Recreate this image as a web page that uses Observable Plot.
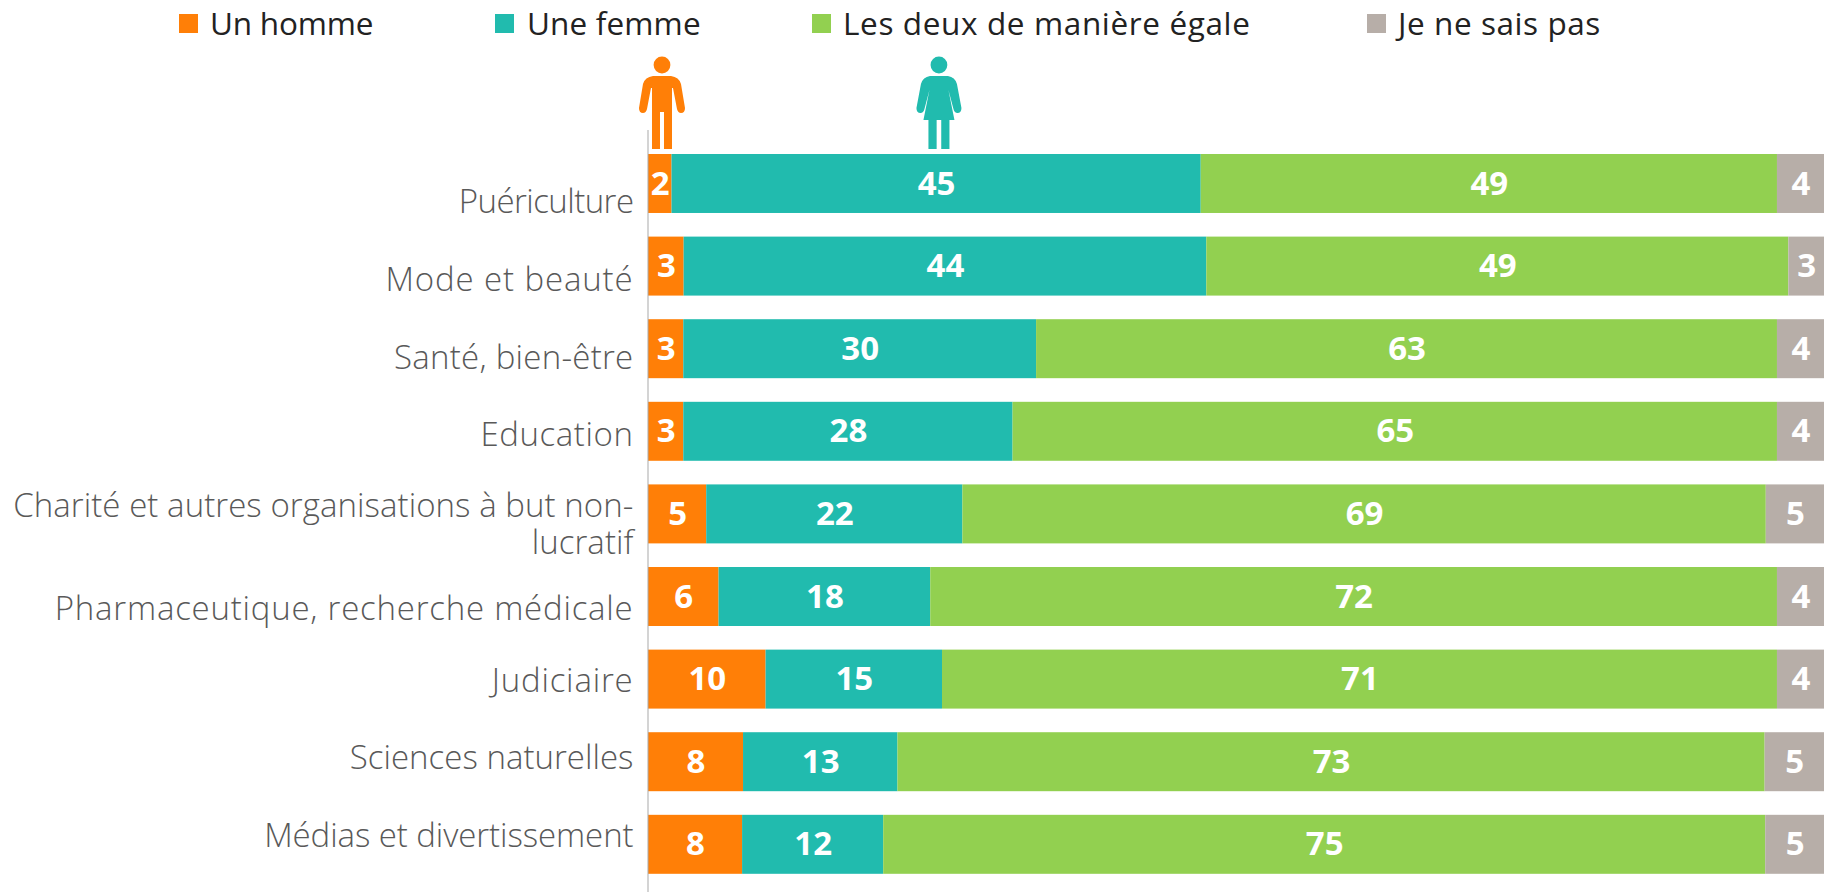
<!DOCTYPE html>
<html lang="fr">
<head>
<meta charset="utf-8">
<script src="https://cdn.jsdelivr.net/npm/d3@7"></script>
<script src="https://cdn.jsdelivr.net/npm/@observablehq/plot@0.6"></script>
<style>
html,body{margin:0;padding:0;background:#fff;overflow:hidden}
#legend{position:relative;height:45px;width:1832px;font-family:"Open Sans",sans-serif;font-size:31.5px;color:#222}
#legend span{position:absolute;top:3px;line-height:40px;white-space:nowrap}
#legend i{position:absolute;top:14px;width:19px;height:19px}
svg{display:block}
</style>
</head>
<body>
<div id="legend"></div>
<div id="chart"></div>
<script>
const categories = ["Puériculture","Mode et beauté","Santé, bien-être","Education","Charité et autres organisations à but non-\nlucratif","Pharmaceutique, recherche médicale","Judiciaire","Sciences naturelles","Médias et divertissement"];
const series = ["Un homme","Une femme","Les deux de manière égale","Je ne sais pas"];
const unHomme = [2,3,3,3,5,6,10,8,8];
const uneFemme = [45,44,30,28,22,18,15,13,12];
const lesDeux = [49,49,63,65,69,72,71,73,75];
const neSaisPas = [4,3,4,4,5,4,4,5,5];
const colors = ["#FF7F07","#21BBAE","#92D050","#B7AEA8"];

// layout (not data)
const legendSwatchX = [179,495,812,1367];
const legendTextX = [210,527,843,1398];
const legendSpacing = [-0.2,0.14,0.63,0.57];
const labelDy = [17,13,7.5,2,9,11.5,0.5,-5,-9.5];
const labelSpacing = [-0.55,0.87,0.26,0.57,0.06,0.77,0.8,0.02,-0.08];
const iconShare = [0.0119,0.2474];
const topBand = 45;

const legendDiv = document.getElementById("legend");
series.forEach((s,i)=>{
  const sw=document.createElement("i");
  sw.style.left=legendSwatchX[i]+"px"; sw.style.background=colors[i];
  legendDiv.appendChild(sw);
  const t=document.createElement("span");
  t.style.left=legendTextX[i]+"px"; t.style.letterSpacing=legendSpacing[i]+"px"; t.textContent=s;
  legendDiv.appendChild(t);
});

const columns=[unHomme,uneFemme,lesDeux,neSaisPas];
const rows=series.flatMap((s,j)=>categories.map((c,i)=>({category:c,series:s,value:columns[j][i]})));

const manBody="M-9,76L9,76Q17,77 19,84L23,108Q23,113 19,113Q16,113 15,109L11,88L10,88L10,149L2,149L2,112L-2,112L-2,149L-10,149L-10,88L-11,88L-15,109Q-16,113 -19,113Q-23,113 -23,108L-19,84Q-17,77 -9,76Z";
const womanBody="M-9,76L9,76Q16,77 18,84L22.5,108Q22.5,113 18.5,113Q15.5,113 14.5,109L9.5,90L15.5,120L10.5,120L10.5,149L2.3,149L2.3,120L-2.3,120L-2.3,149L-10.5,149L-10.5,120L-15.5,120L-9.5,90L-14.5,109Q-15.5,113 -18.5,113Q-22.5,113 -22.5,108L-18,84Q-16,77 -9,76Z";

function icons(index,scales){
  const g=d3.create("svg:g");
  [manBody,womanBody].forEach((d,i)=>{
    const p=g.append("g").attr("transform",`translate(${scales.x(iconShare[i])},${-topBand})`).attr("fill",colors[i]);
    p.append("circle").attr("cy",65).attr("r",8.4);
    p.append("path").attr("d",d);
  });
  return g.node();
}

const stack=Plot.stackX({x:"value",y:"category",z:"series",offset:"normalize",text:"value"});
const chartSvg=Plot.plot({
  width:1832,height:892-topBand,
  marginLeft:648,marginRight:8,marginTop:85,marginBottom:0,
  x:{axis:null,domain:[0,1]},
  y:{axis:null,domain:categories,range:[109,828.8],paddingInner:0.286,paddingOuter:0,round:false},
  color:{domain:series,range:colors},
  style:{fontFamily:"'Open Sans',sans-serif",background:"#fff",overflow:"visible"},
  marks:[
    Plot.barX(rows,{...stack,fill:"series"}),
    Plot.ruleX([0],{stroke:"#A9A9A9",strokeWidth:1,dx:-0.5}),
    Plot.text(rows,{...stack,fill:"#fff",fontWeight:700,fontSize:33}),
    ...categories.map((c,i)=>Plot.text([c],{y:d=>d,frameAnchor:"left",dx:-15,dy:labelDy[i],textAnchor:"end",fill:"#595959",fontSize:33,fontWeight:300,lineHeight:1.12,text:d=>d})),
    icons
  ]
});
chartSvg.querySelectorAll('g[font-weight="300"]').forEach((t,i)=>{t.style.letterSpacing=labelSpacing[i]+"px";});
document.getElementById("chart").appendChild(chartSvg);
</script>
</body>
</html>
